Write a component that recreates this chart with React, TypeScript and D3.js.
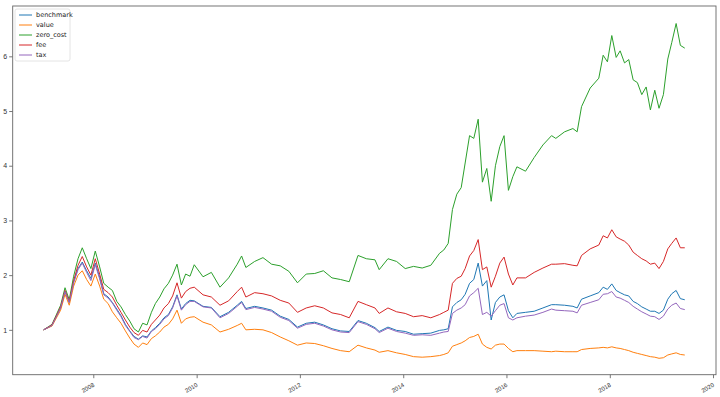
import React, { useEffect, useRef } from 'react';
import * as d3 from 'd3';

// month of each sample (mid-month)
const months = [
  '2007-01', '2007-03', '2007-05', '2007-06', '2007-07', '2007-08', '2007-09', '2007-10', '2007-11', '2007-12',
  '2008-01', '2008-02', '2008-03', '2008-04', '2008-05', '2008-06', '2008-07', '2008-08', '2008-09', '2008-10',
  '2008-11', '2008-12', '2009-01', '2009-02', '2009-03', '2009-04', '2009-05', '2009-06', '2009-07', '2009-08',
  '2009-09', '2009-10', '2009-11', '2009-12', '2010-02', '2010-04', '2010-06', '2010-08', '2010-10', '2010-11',
  '2010-12', '2011-02', '2011-04', '2011-06', '2011-08', '2011-10', '2011-12', '2012-02', '2012-04', '2012-06',
  '2012-08', '2012-10', '2012-12', '2013-02', '2013-04', '2013-06', '2013-07', '2013-09', '2013-11', '2014-01',
  '2014-03', '2014-05', '2014-07', '2014-09', '2014-10', '2014-11', '2014-12', '2015-01', '2015-02', '2015-03',
  '2015-04', '2015-05', '2015-06', '2015-07', '2015-08', '2015-09', '2015-10', '2015-11', '2015-12', '2016-01',
  '2016-02', '2016-03', '2016-05', '2016-07', '2016-09', '2016-11', '2016-12', '2017-02', '2017-04', '2017-05',
  '2017-06', '2017-08', '2017-10', '2017-11', '2017-12', '2018-01', '2018-02', '2018-03', '2018-04', '2018-05',
  '2018-06', '2018-07', '2018-08', '2018-09', '2018-10', '2018-11', '2018-12', '2019-01', '2019-02', '2019-03',
  '2019-04', '2019-05', '2019-06',
];

const benchmark = [
  1.00, 1.08, 1.40, 1.70, 1.50, 1.88, 2.12, 2.24, 2.08, 1.94,
  2.22, 1.96, 1.66, 1.60, 1.50, 1.38, 1.26, 1.10, 0.98, 0.88,
  0.83, 0.89, 0.87, 0.98, 1.04, 1.12, 1.22, 1.28, 1.42, 1.64,
  1.38, 1.48, 1.54, 1.53, 1.43, 1.41, 1.24, 1.32, 1.45, 1.52,
  1.39, 1.43, 1.40, 1.36, 1.25, 1.19, 1.05, 1.12, 1.14, 1.09,
  1.02, 0.98, 0.97, 1.17, 1.12, 1.04, 0.97, 1.05, 0.99, 0.97,
  0.92, 0.93, 0.94, 0.99, 1.00, 1.02, 1.42, 1.50, 1.55, 1.65,
  1.85, 1.92, 2.22, 1.80, 1.90, 1.18, 1.50, 1.60, 1.64, 1.35,
  1.22, 1.30, 1.32, 1.34, 1.40, 1.46, 1.46, 1.45, 1.43, 1.40,
  1.56, 1.62, 1.68, 1.78, 1.74, 1.84, 1.72, 1.68, 1.64, 1.62,
  1.52, 1.48, 1.42, 1.38, 1.34, 1.34, 1.30, 1.36, 1.56, 1.66,
  1.72, 1.57, 1.55,
];

const value = [
  1.00, 1.07, 1.36, 1.65, 1.45, 1.80, 2.00, 2.08, 1.92, 1.80,
  2.02, 1.80, 1.56, 1.48, 1.33, 1.22, 1.12, 0.98, 0.85, 0.74,
  0.68, 0.76, 0.73, 0.84, 0.89, 0.96, 1.05, 1.10, 1.20, 1.36,
  1.12, 1.20, 1.23, 1.24, 1.14, 1.09, 0.96, 1.01, 1.08, 1.12,
  1.00, 1.01, 1.00, 0.95, 0.87, 0.80, 0.72, 0.76, 0.75, 0.71,
  0.66, 0.62, 0.60, 0.72, 0.67, 0.63, 0.59, 0.62, 0.58, 0.55,
  0.51, 0.50, 0.51, 0.53, 0.55, 0.58, 0.70, 0.73, 0.76, 0.80,
  0.86, 0.88, 0.92, 0.74, 0.68, 0.65, 0.72, 0.74, 0.74, 0.66,
  0.60, 0.62, 0.62, 0.62, 0.61, 0.60, 0.61, 0.60, 0.60, 0.60,
  0.64, 0.66, 0.67, 0.68, 0.67, 0.69, 0.67, 0.66, 0.64, 0.62,
  0.59, 0.57, 0.55, 0.53, 0.51, 0.50, 0.48, 0.49, 0.54, 0.56,
  0.58, 0.55, 0.54,
];

const zeroCost = [
  1.00, 1.10, 1.45, 1.77, 1.55, 1.98, 2.30, 2.50, 2.30, 2.12,
  2.44, 2.15, 1.85, 1.78, 1.72, 1.52, 1.42, 1.28, 1.16, 1.02,
  0.96, 1.12, 1.09, 1.32, 1.48, 1.60, 1.75, 1.85, 2.00, 2.20,
  1.82, 2.02, 1.98, 2.19, 1.97, 2.05, 1.78, 1.95, 2.20, 2.35,
  2.14, 2.25, 2.32, 2.20, 2.17, 2.07, 1.86, 2.02, 2.03, 2.08,
  1.95, 1.92, 1.88, 2.36, 2.30, 2.28, 2.10, 2.30, 2.25, 2.12,
  2.16, 2.13, 2.18, 2.40, 2.46, 2.58, 3.20, 3.48, 3.60, 4.05,
  4.55, 4.50, 4.85, 3.70, 3.95, 3.35, 4.00, 4.35, 4.55, 3.55,
  3.80, 3.98, 3.90, 4.15, 4.38, 4.55, 4.50, 4.62, 4.68, 4.62,
  5.08, 5.42, 5.60, 6.02, 5.90, 6.38, 5.98, 6.10, 5.88, 5.94,
  5.57, 5.52, 5.30, 5.44, 5.02, 5.38, 5.05, 5.30, 5.95, 6.25,
  6.60, 6.20, 6.15,
];

const fee = [
  1.00, 1.09, 1.42, 1.72, 1.52, 1.90, 2.18, 2.34, 2.15, 2.00,
  2.30, 2.02, 1.74, 1.68, 1.60, 1.45, 1.32, 1.18, 1.05, 0.95,
  0.90, 0.99, 0.96, 1.10, 1.18, 1.27, 1.40, 1.48, 1.62, 1.86,
  1.58, 1.70, 1.76, 1.78, 1.64, 1.60, 1.45, 1.53, 1.70, 1.78,
  1.60, 1.68, 1.66, 1.62, 1.54, 1.49, 1.32, 1.40, 1.44, 1.40,
  1.31, 1.28, 1.22, 1.52, 1.46, 1.40, 1.30, 1.40, 1.33, 1.30,
  1.24, 1.26, 1.22, 1.28, 1.32, 1.36, 1.85, 1.94, 1.98, 2.12,
  2.35, 2.45, 2.65, 2.10, 2.15, 1.78, 1.98, 2.22, 2.33, 2.02,
  1.82, 1.95, 1.95, 2.05, 2.13, 2.20, 2.20, 2.21, 2.18, 2.17,
  2.36, 2.48, 2.55, 2.72, 2.68, 2.83, 2.70, 2.66, 2.62, 2.55,
  2.42, 2.36, 2.30, 2.26, 2.20, 2.22, 2.12, 2.25, 2.48, 2.58,
  2.68, 2.50, 2.50,
];

const tax = [
  1.00, 1.08, 1.40, 1.70, 1.50, 1.86, 2.10, 2.22, 2.05, 1.90,
  2.19, 1.93, 1.64, 1.58, 1.49, 1.36, 1.24, 1.08, 0.97, 0.86,
  0.82, 0.88, 0.85, 0.97, 1.02, 1.10, 1.20, 1.26, 1.40, 1.62,
  1.36, 1.46, 1.52, 1.52, 1.42, 1.40, 1.22, 1.30, 1.43, 1.50,
  1.37, 1.41, 1.38, 1.34, 1.23, 1.17, 1.03, 1.10, 1.12, 1.07,
  1.00, 0.96, 0.95, 1.15, 1.10, 1.02, 0.95, 1.03, 0.97, 0.94,
  0.90, 0.91, 0.90, 0.94, 0.96, 0.97, 1.30, 1.36, 1.40, 1.46,
  1.62, 1.68, 1.76, 1.28, 1.32, 1.25, 1.35, 1.45, 1.48, 1.22,
  1.18, 1.22, 1.25, 1.27, 1.32, 1.38, 1.36, 1.35, 1.34, 1.31,
  1.45, 1.50, 1.55, 1.65, 1.66, 1.70, 1.60, 1.58, 1.54, 1.50,
  1.43, 1.38, 1.33, 1.29, 1.25, 1.24, 1.19, 1.25, 1.38, 1.45,
  1.49, 1.39, 1.37,
];

const seriesNames = ['benchmark', 'value', 'zero_cost', 'fee', 'tax'];
const seriesColors = ['#1f77b4', '#ff7f0e', '#2ca02c', '#d62728', '#9467bd'];
const yTicks = [1, 2, 3, 4, 5, 6];
const xTickYears = [2008, 2010, 2012, 2014, 2016, 2018, 2020];

const App = () => {
  const ref = useRef(null);

  useEffect(() => {
    document.body.style.margin = '0';
    const W = 720, H = 397;
    const left = 12.7, right = 716, top = 6, bottom = 374.7;

    const dates = months.map(m => {
      const [y, mo] = m.split('-').map(Number);
      return new Date(y, mo - 1, 15);
    });
    const allSeries = [benchmark, value, zeroCost, fee, tax];

    d3.select(ref.current).selectAll('*').remove();
    const svg = d3.select(ref.current)
      .append('svg')
      .attr('width', W)
      .attr('height', H)
      .style('display', 'block')
      .style('font-family', '"DejaVu Sans", sans-serif');

    svg.append('rect').attr('width', W).attr('height', H).attr('fill', '#fff');

    const x = d3.scaleTime()
      .domain([new Date(2006, 5, 10), new Date(2020, 0, 22)])
      .range([left, right]);
    const y = d3.scaleLinear()
      .domain([0.18, 6.92])
      .range([bottom, top]);

    const line = d3.line()
      .x((d, i) => x(dates[i]))
      .y(d => y(d));

    allSeries.forEach((s, k) => {
      svg.append('path')
        .datum(s)
        .attr('fill', 'none')
        .attr('stroke', seriesColors[k])
        .attr('stroke-width', 1)
        .attr('stroke-linejoin', 'round')
        .attr('d', line);
    });

    // x axis, labels rotated like fig.autofmt_xdate
    const xAxis = svg.append('g')
      .attr('transform', `translate(0,${bottom})`)
      .call(d3.axisBottom(x)
        .tickValues(xTickYears.map(yr => new Date(yr, 0, 1)))
        .tickFormat(d3.timeFormat('%Y'))
        .tickSize(3.5));
    xAxis.select('.domain').remove();
    xAxis.selectAll('line').attr('stroke', '#555').attr('stroke-width', 0.8);
    xAxis.selectAll('text')
      .attr('fill', '#333')
      .style('font-size', '6px')
      .attr('text-anchor', 'end')
      .attr('y', 0)
      .attr('dy', 0)
      .attr('transform', 'translate(1,11.5) rotate(-30)');

    // y axis
    const yAxis = svg.append('g')
      .attr('transform', `translate(${left},0)`)
      .call(d3.axisLeft(y).tickValues(yTicks).tickFormat(d3.format('d')).tickSize(3.5).tickPadding(2));
    yAxis.select('.domain').remove();
    yAxis.selectAll('line').attr('stroke', '#555').attr('stroke-width', 0.8);
    yAxis.selectAll('text').attr('fill', '#333').style('font-size', '7px');

    // frame
    svg.append('rect')
      .attr('x', left).attr('y', top)
      .attr('width', right - left).attr('height', bottom - top)
      .attr('fill', 'none')
      .attr('stroke', '#666')
      .attr('stroke-width', 0.9);

    // legend
    const lg = svg.append('g').attr('transform', 'translate(15,9)');
    lg.append('rect')
      .attr('width', 55).attr('height', 52)
      .attr('rx', 2)
      .attr('fill', '#fff')
      .attr('fill-opacity', 0.8)
      .attr('stroke', '#ddd')
      .attr('stroke-width', 0.8);
    seriesNames.forEach((name, k) => {
      const yy = 6 + k * 10;
      lg.append('line')
        .attr('x1', 4).attr('x2', 17)
        .attr('y1', yy).attr('y2', yy)
        .attr('stroke', seriesColors[k])
        .attr('stroke-width', 1);
      lg.append('text')
        .attr('x', 21).attr('y', yy + 2.3)
        .attr('fill', '#222')
        .style('font-size', '6.5px')
        .text(name);
    });
  }, []);

  return <div ref={ref} />;
};

export default App;
